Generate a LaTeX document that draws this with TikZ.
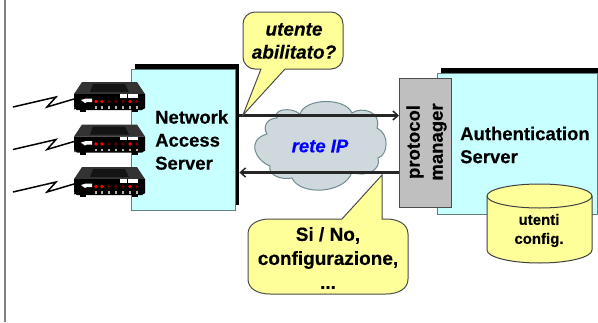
\documentclass[tikz,border=0pt]{standalone}
\usepackage{fontspec}
\setmainfont{Liberation Sans}[BoldFeatures={FakeBold=0.35},BoldItalicFeatures={FakeBold=0.35}]
\usetikzlibrary{arrows.meta,calc,shapes.geometric}
\definecolor{srv}{HTML}{C8FFFF}
\definecolor{yel}{HTML}{FFFF99}
\definecolor{edge}{HTML}{5F7F7F}
\definecolor{cloudc}{HTML}{CFD8DC}
\definecolor{cloude}{HTML}{6E8C90}
\tikzset{
  lbl/.style={font=\bfseries\fontsize{18.5}{23}\selectfont,align=left,text=black,inner sep=0pt},
  server/.style={draw=edge,fill=srv,line width=1pt,inner sep=0pt},
  shadowbox/.style={fill=black,draw=none,inner sep=0pt},
  conn/.style={line width=2.2pt,black!85,-{Straight Barb[length=5pt,width=9pt,line width=1.5pt]}},
  bubble/.style={draw=black!70,fill=yel,line width=1pt},
  bubbletext/.style={font=\bfseries\fontsize{19}{24}\selectfont,align=center,inner sep=0pt},
  zig/.style={line width=1.5pt,black},
}
\newcommand{\modem}[2]{%
  \begin{scope}[shift={(#1,#2)}]
    \fill[black!80] (8,0) -- (63,0) -- (71,12) -- (0,12) -- cycle;
    \fill[black!92] (19,2) -- (51,2) -- (55,10) -- (16,10) -- cycle;
    \fill[black] (0,12) -- (71,12) -- (71,26) [rounded corners=2pt] -- (70,28) -- (1,28) -- (0,26) [sharp corners] -- cycle;
    \fill[black] (6,27) rectangle (12,30);
    \fill[black] (58,27) rectangle (64,30);
    \fill[white] (46,12) rectangle (53,15.5);
    \fill[white] (54,12) rectangle (64,15.5);
    \fill[white] (7,18) -- (12,16.5) -- (18,16.5) -- (18,20) -- (13,20) -- (11,21) -- cycle;
    \foreach \x/\c in {22/red,28/red,35/red!35!black,42/red!35!black,49/red!35!black,56/red,63/red!45!black}{
      \fill[\c] (\x,19.5) circle (1.9);
      \fill[black!30] (\x-.6,24) rectangle (\x+.6,26.5);
    }
  \end{scope}}
\begin{document}
\begin{tikzpicture}[x=1pt,y=-1pt]
\useasboundingbox (0,0) rectangle (598,322);
\fill[white] (0,0) rectangle (598,322);
\draw[gray,line width=1.6pt] (5,0) -- (5,322);

% Network Access Server
\node[shadowbox,minimum width=104pt,minimum height=141pt,anchor=north west] (nasshadow) at (135,64) {};
\node[server,minimum width=104pt,minimum height=141pt,anchor=north west] (nas) at (131,68.5) {};
\node[lbl,anchor=west] (nastext) at (155,140) {Network\\Access\\Server};

% Authentication Server
\node[shadowbox,minimum width=157pt,minimum height=141pt,anchor=north west] (asshadow) at (441,68) {};
\node[server,minimum width=160pt,minimum height=141pt,anchor=north west] (as) at (437,73) {};
\node[lbl,anchor=west] (astext) at (460,145) {Authentication\\Server};

% Protocol manager
\node[draw=black!70,fill=black!25,line width=1pt,minimum width=52pt,minimum height=129pt,anchor=north west,inner sep=0pt] (pm) at (399,78) {};
\node[lbl,align=center,rotate=90] (pmtext) at (426.5,142) {protocol\\manager};

% Cloud
\path[draw=cloude,fill=cloudc,line width=1pt] (277,118)
  .. controls (272,110) and (290,106) .. (300,114)
  .. controls (305,98) and (345,97) .. (352,113)
  .. controls (362,106) and (382,112) .. (377,128)
  .. controls (390,134) and (388,155) .. (378,158)
  .. controls (382,170) and (365,178) .. (352,172)
  .. controls (345,194) and (300,196) .. (292,178)
  .. controls (282,180) and (268,176) .. (270,166)
  .. controls (255,160) and (246,140) .. (267,134)
  .. controls (262,126) and (268,118) .. (277,118) -- cycle;
\node[font=\bfseries\itshape\fontsize{18.5}{22}\selectfont,text={rgb,255:red,0;green,0;blue,255},inner sep=0pt] (cloudtext) at (320,146) {rete IP};

% Connectors
\coordinate (upper) at (0,115.5);
\coordinate (lower) at (0,172.5);
\draw[conn] (nasshadow.east |- upper) -- (pm.west |- upper);
\draw[conn] (pm.west |- lower) -- (nasshadow.east |- lower);

% Bubbles
\path[bubble] (243,24) arc[start angle=180,end angle=270,radius=12] -- (331,12)
  arc[start angle=270,end angle=360,radius=12] -- (343,57)
  arc[start angle=0,end angle=90,radius=12] -- (285,69) -- (243,115) -- (261,69) -- (255,69)
  arc[start angle=90,end angle=180,radius=12] -- cycle;
\path[bubble] (248,234) .. controls (248,224) and (258,219) .. (270,219) -- (342,219) -- (382,175) -- (382,219) -- (386,219)
  .. controls (398,219) and (408,224) .. (408,234) -- (408,279)
  .. controls (408,289) and (398,294) .. (386,294) -- (270,294)
  .. controls (258,294) and (248,289) .. (248,279) -- cycle;
\node[bubbletext,font=\bfseries\itshape\fontsize{19}{23}\selectfont] (q) at (294,41) {utente\\abilitato?};
\node[bubbletext] (r) at (328,258) {Si / No,\\configurazione,\\...};

% Database
\path[bubble,draw=black!75] (487,196) -- (487,250) arc[start angle=180,end angle=0,x radius=52.5,y radius=13] -- (592,196) arc[start angle=0,end angle=-180,x radius=52.5,y radius=12] -- cycle;
\draw[black!75,line width=1pt] (487,196) arc[start angle=180,end angle=0,x radius=52.5,y radius=12];
\node[font=\bfseries\fontsize{15}{19}\selectfont,align=center,inner sep=0pt] (db) at (539,230.5) {utenti\\config.};

% Modems and their lines
\foreach \y/\n in {82/a,124.5/b,167/c}{
  \modem{74}{\y}
  \coordinate (m\n) at (74,\y+17);
  \draw[zig] ($(m\n)+(-61,8)$) -- ($(m\n)+(-18,-2)$) -- ($(m\n)+(-27,8)$) -- (m\n);
}
\end{tikzpicture}
\end{document}
